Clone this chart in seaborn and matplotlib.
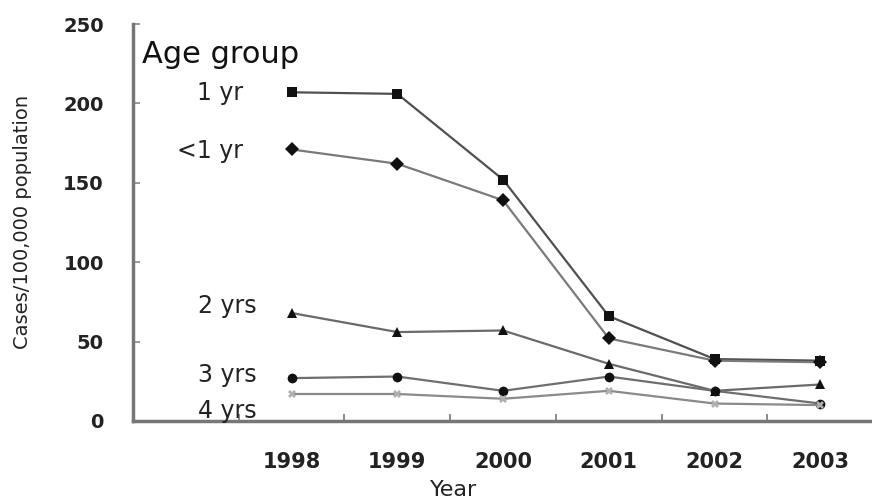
import matplotlib
matplotlib.use("Agg")
import matplotlib.pyplot as plt
import seaborn as sns
import pandas as pd

# ---- data ----
years = [1998, 1999, 2000, 2001, 2002, 2003]
groups = ["1 yr", "<1 yr", "2 yrs", "3 yrs", "4 yrs"]
rate_1yr = [207, 206, 152, 66, 39, 38]
rate_lt1yr = [171, 162, 139, 52, 38, 37]
rate_2yrs = [68, 56, 57, 36, 19, 23]
rate_3yrs = [27, 28, 19, 28, 19, 11]
rate_4yrs = [17, 17, 14, 19, 11, 10]
y_ticks = [0, 50, 100, 150, 200, 250]
x_label = "Year"
y_label = "Cases/100,000 population"
legend_title = "Age group"

series = {"1 yr": rate_1yr, "<1 yr": rate_lt1yr, "2 yrs": rate_2yrs,
          "3 yrs": rate_3yrs, "4 yrs": rate_4yrs}
rows = []
for g in groups:
    for yr, v in zip(years, series[g]):
        rows.append({"Year": yr, "Rate": v, "Group": g})
df = pd.DataFrame(rows)

sns.set_style("white")
plt.rcParams["font.family"] = ["DejaVu Sans"]

fig = plt.figure(figsize=(8.72, 5.01), dpi=100)
ax = fig.add_axes([133 / 872, 80 / 501, 737 / 872, 397 / 501])

palette = {"1 yr": "#505050", "<1 yr": "#7a7a7a", "2 yrs": "#6a6a6a",
           "3 yrs": "#6e6e6e", "4 yrs": "#8a8a8a"}
markers = {"1 yr": "s", "<1 yr": "D", "2 yrs": "^", "3 yrs": "o", "4 yrs": "X"}
sns.lineplot(data=df, x="Year", y="Rate", hue="Group", style="Group",
             hue_order=groups, style_order=groups, palette=palette,
             markers=markers, dashes=False, legend=False, ax=ax,
             linewidth=1.6, markersize=7, markeredgewidth=0)
for line, g in zip(ax.get_lines(), groups):
    if g == "4 yrs":
        line.set_markerfacecolor("#b0b0b0")
        line.set_markersize(6)
    else:
        line.set_markerfacecolor("#111111")

ax.set_xlim(1996.5, 2003.47)
ax.set_ylim(0, 250)
ax.set_yticks(y_ticks)
ax.set_yticklabels([str(t) for t in y_ticks], fontsize=14, fontweight="bold",
                   color="#222222")
ax.set_xticks(years)
ax.set_xticklabels([str(y) for y in years], fontsize=15, fontweight="bold",
                   color="#222222")
ax.set_xticks([1997.5, 1998.5, 1999.5, 2000.5, 2001.5, 2002.5], minor=True)
ax.tick_params(axis="x", which="major", length=0, pad=22, bottom=True)
ax.tick_params(axis="x", which="minor", direction="in", length=5, width=1.2,
               color="#777777", bottom=True)
ax.tick_params(axis="y", which="major", direction="in", length=5, width=1.2,
               color="#888888", pad=21, left=True)
ax.set_xlabel("")
ax.set_ylabel("")

for s in ["top", "right"]:
    ax.spines[s].set_visible(False)
for s in ["left", "bottom"]:
    ax.spines[s].set_color("#777777")
    ax.spines[s].set_linewidth(2.5)

fig.text(23 / 872, 1 - 222 / 501, y_label, rotation=90, ha="center",
         va="center", fontsize=14, color="#222222")
fig.text(454 / 872, 1 - 490 / 501, x_label, ha="center", va="center",
         fontsize=16, color="#222222")

# group labels
fig.text(142 / 872, 1 - 63 / 501, legend_title, ha="left", va="baseline",
         fontsize=22, color="#111111")
label_pos = {"1 yr": (243, 100), "<1 yr": (243, 158), "2 yrs": (257, 313),
             "3 yrs": (257, 382), "4 yrs": (257, 418)}
for g in groups:
    px, py = label_pos[g]
    fig.text(px / 872, 1 - py / 501, g, ha="right", va="baseline",
             fontsize=17, color="#222222")

fig.savefig("out.png", dpi=100)
